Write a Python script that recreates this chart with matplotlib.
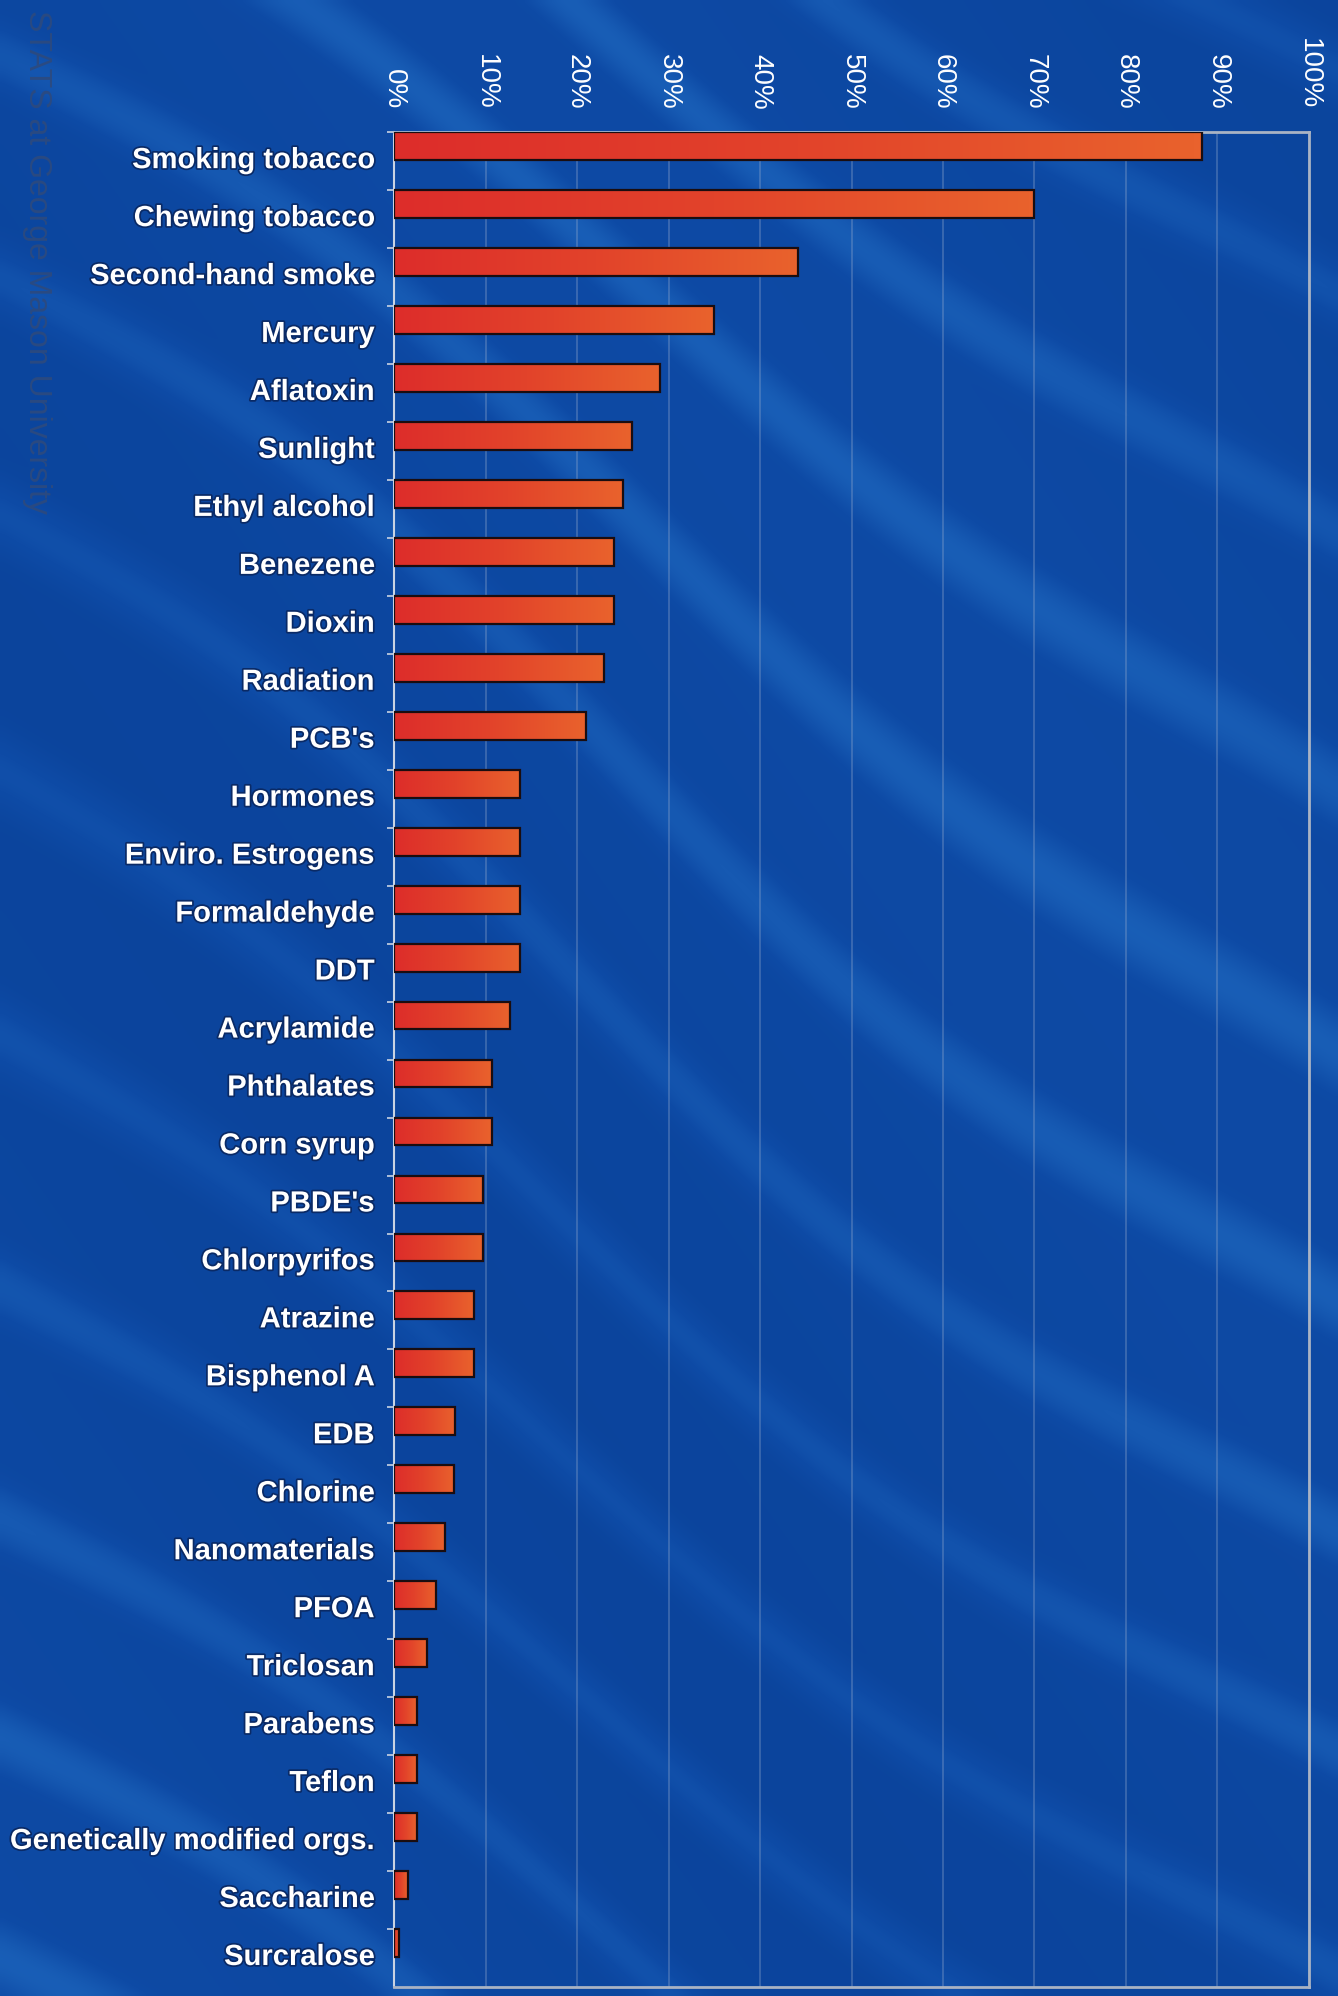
import numpy as np
import matplotlib.pyplot as plt
import matplotlib.patheffects as pe
from matplotlib.colors import LinearSegmentedColormap

plt.rcParams['font.family'] = ['Liberation Sans', 'DejaVu Sans']

# data (percent)
categories = [
    'Smoking tobacco', 'Chewing tobacco', 'Second-hand smoke', 'Mercury',
    'Aflatoxin', 'Sunlight', 'Ethyl alcohol', 'Benezene', 'Dioxin',
    'Radiation', "PCB's", 'Hormones', 'Enviro. Estrogens', 'Formaldehyde',
    'DDT', 'Acrylamide', 'Phthalates', 'Corn syrup', "PBDE's", 'Chlorpyrifos',
    'Atrazine', 'Bisphenol A', 'EDB', 'Chlorine', 'Nanomaterials', 'PFOA',
    'Triclosan', 'Parabens', 'Teflon', 'Genetically modified orgs.',
    'Saccharine', 'Surcralose',
]
values = [
    88.3, 70.0, 44.2, 35.0, 29.1, 26.0, 25.0, 24.0, 24.0, 23.0, 21.0,
    13.8, 13.8, 13.8, 13.8, 12.7, 10.7, 10.7, 9.7, 9.7, 8.7, 8.7,
    6.7, 6.6, 5.6, 4.6, 3.6, 2.5, 2.5, 2.5, 1.5, 0.5,
]
xticks = [0, 10, 20, 30, 40, 50, 60, 70, 80, 90, 100]
xticklabels = [f'{t}%' for t in xticks]

fig = plt.figure(figsize=(13.38, 19.96), dpi=100)

# blue backdrop with faint diagonal streaks
bg = fig.add_axes([0, 0, 1, 1], zorder=-5)
yy, xx = np.mgrid[0:400, 0:268]
u = yy - 0.75 * xx
s = np.sin(2 * np.pi * u / 48.0 + 1.1 * np.sin(xx / 38.0) + 0.7 * np.sin(yy / 55.0))
streak = 0.6 * np.clip(s, 0, 1) ** 2 + 0.2 * np.sin(xx / 60.0 - yy / 85.0)
bg_cmap = LinearSegmentedColormap.from_list('bgb', ['#0b449c', '#0e4ba6', '#1a60b8'])
bg.imshow(streak, cmap=bg_cmap, aspect='auto', interpolation='bicubic', vmin=-0.25, vmax=0.85)
bg.axis('off')

fig.text(0.028, 0.995, 'STATS at George Mason University', rotation=-90,
         ha='center', va='top', fontsize=23, color='#2d4a7e', alpha=0.9)

ax = fig.add_axes([0.2945, 0.0045, 0.6838, 0.9294])
ax.set_facecolor('none')

n = len(categories)
pos = np.arange(n)
bar_h = 0.48
bars = ax.barh(pos, values, height=bar_h, color='#e4482a', edgecolor='#1a0d10',
               linewidth=1.6, zorder=3)

bar_cmap = LinearSegmentedColormap.from_list('bar', ['#dd2d2a', '#e2432a', '#e9622d'])
grad = np.linspace(0, 1, 64).reshape(1, -1)
for b in bars:
    x0, y0 = b.get_x(), b.get_y()
    w, h = b.get_width(), b.get_height()
    im = ax.imshow(grad, cmap=bar_cmap, aspect='auto', interpolation='bicubic',
                   extent=(x0, x0 + w, y0 + h, y0), zorder=3.5)
    im.set_clip_path(b)
    b.set_facecolor('none')
    b.set_zorder(4)

ax.set_xlim(0, 100)
ax.set_ylim(n - 1 + 0.76, -0.245)

ax.xaxis.tick_top()
ax.set_xticks(xticks)
ax.set_xticklabels(xticklabels, rotation=-90, fontsize=20, color='white')
ax.tick_params(axis='x', length=0, pad=16)
ax.grid(axis='x', color='#8fa6cc', alpha=0.4, linewidth=1.2, zorder=1)

ax.set_yticks(pos + 0.19)
ax.set_yticklabels(categories, fontsize=21, fontweight='bold', color='white')
ax.tick_params(axis='y', length=0, pad=14)
ax.set_yticks(pos - bar_h / 2, minor=True)
ax.tick_params(axis='y', which='minor', length=5, width=1.2, color='#c9d3e3')
shadow = [pe.withStroke(linewidth=2.5, foreground='#0a2a66')]
for lab in ax.get_yticklabels():
    lab.set_path_effects(shadow)

for side in ['top', 'right', 'bottom']:
    ax.spines[side].set_color('#a9b3c4')
    ax.spines[side].set_linewidth(2)
ax.spines['left'].set_color('#c9d3e3')
ax.spines['left'].set_linewidth(1.5)

fig.savefig('out.png', dpi=100)
